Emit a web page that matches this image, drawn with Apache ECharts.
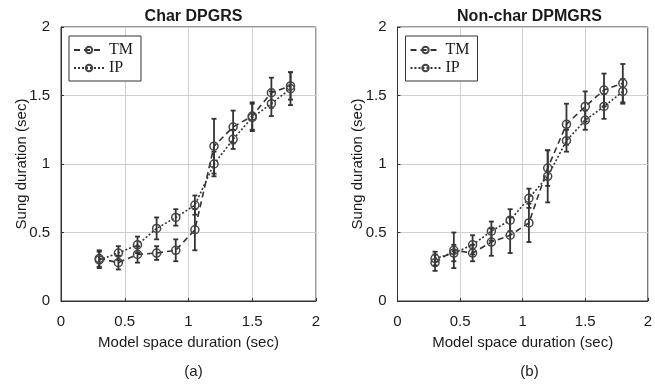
<!DOCTYPE html>
<html>
<head>
<meta charset="utf-8">
<script src="https://cdn.jsdelivr.net/npm/echarts@6/dist/echarts.min.js"></script>
<style>
html,body{margin:0;padding:0;background:#fff;}
#chart{width:655px;height:387px;}
</style>
</head>
<body>
<div id="chart"></div>
<script>
// Model space duration (x) values shared by all series
const xVals = [0.3, 0.45, 0.6, 0.75, 0.9, 1.05, 1.2, 1.35, 1.5, 1.65, 1.8];

// (a) Char DPGRS
const tmA    = [0.31, 0.28, 0.34, 0.35, 0.37, 0.52, 1.13, 1.27, 1.35, 1.52, 1.57];
const tmAErr = [0.06, 0.05, 0.06, 0.05, 0.08, 0.15, 0.20, 0.12, 0.10, 0.11, 0.10];
const ipA    = [0.30, 0.35, 0.41, 0.53, 0.61, 0.70, 1.00, 1.18, 1.34, 1.44, 1.55];
const ipAErr = [0.06, 0.05, 0.06, 0.08, 0.06, 0.07, 0.09, 0.07, 0.10, 0.09, 0.12];

// (b) Non-char DPMGRS
const tmB    = [0.28, 0.37, 0.35, 0.43, 0.48, 0.57, 0.97, 1.29, 1.42, 1.54, 1.59];
const tmBErr = [0.06, 0.13, 0.06, 0.10, 0.13, 0.14, 0.13, 0.15, 0.11, 0.12, 0.14];
const ipB    = [0.31, 0.35, 0.41, 0.51, 0.59, 0.75, 0.91, 1.17, 1.32, 1.42, 1.53];
const ipBErr = [0.05, 0.06, 0.07, 0.07, 0.08, 0.07, 0.19, 0.08, 0.07, 0.09, 0.09];

const titles = ['Char DPGRS', 'Non-char DPMGRS'];
const subLabels = ['(a)', '(b)'];
const xName = 'Model space duration (sec)';
const yName = 'Sung duration (sec)';
const seriesNames = ['TM', 'IP'];

const INK = '#333';
const TXT = '#1a1a1a';
const SANS = 'Liberation Sans, Arial, sans-serif';
const SERIF = 'Liberation Serif, Times New Roman, serif';

const grids = [
  {left: 61, width: 255, top: 27, bottom: 86},
  {left: 397.5, width: 254, top: 27, bottom: 86}
];

function pairs(ys) { return xVals.map((x, i) => [x, ys[i]]); }
function errData(ys, es) { return xVals.map((x, i) => [x, ys[i] - es[i], ys[i] + es[i]]); }

function errSeries(idx, ys, es) {
  return {
    type: 'custom', xAxisIndex: idx, yAxisIndex: idx, z: 2, silent: true,
    data: errData(ys, es),
    renderItem: function (params, api) {
      const lo = api.coord([api.value(0), api.value(1)]);
      const hi = api.coord([api.value(0), api.value(2)]);
      const w = 2.5;
      const st = {stroke: INK, lineWidth: 1.8};
      return {type: 'group', children: [
        {type: 'line', shape: {x1: lo[0], y1: lo[1], x2: hi[0], y2: hi[1]}, style: st},
        {type: 'line', shape: {x1: lo[0] - w, y1: lo[1], x2: lo[0] + w, y2: lo[1]}, style: st},
        {type: 'line', shape: {x1: hi[0] - w, y1: hi[1], x2: hi[0] + w, y2: hi[1]}, style: st}
      ]};
    }
  };
}

function lineSeries(idx, name, ys, dash) {
  return {
    type: 'line', name: name, xAxisIndex: idx, yAxisIndex: idx, z: 3,
    data: pairs(ys),
    symbol: 'circle', symbolSize: 8,
    color: INK,
    itemStyle: {color: 'rgba(255,255,255,0)', borderColor: '#444', borderWidth: 1.5},
    lineStyle: {color: INK, width: 1.6, type: dash},
    animation: false
  };
}

const xAxes = grids.map((g, i) => ({
  type: 'value', gridIndex: i, min: 0, max: 2, interval: 0.5,
  name: xName, nameLocation: 'middle', nameGap: 34, nameMoveOverlap: false,
  nameTextStyle: {fontFamily: SANS, fontSize: 15, color: TXT},
  axisLine: {show: true, lineStyle: {color: INK, width: 1}},
  axisTick: {show: true, inside: true, length: 3, lineStyle: {color: INK}},
  axisLabel: {fontFamily: SANS, fontSize: 15, color: TXT, margin: 13,
              formatter: v => String(v)},
  splitLine: {show: true, lineStyle: {color: '#d0d0d0', width: 1}}
}));
const yAxes = grids.map((g, i) => ({
  type: 'value', gridIndex: i, min: 0, max: 2, interval: 0.5,
  name: yName, nameLocation: 'middle', nameGap: 32, nameMoveOverlap: false,
  nameTextStyle: {fontFamily: SANS, fontSize: 15, color: TXT},
  axisLine: {show: true, lineStyle: {color: INK, width: 1}},
  axisTick: {show: true, inside: true, length: 3, lineStyle: {color: INK}},
  axisLabel: {fontFamily: SANS, fontSize: 15, color: TXT, margin: 11,
              formatter: v => String(v)},
  splitLine: {show: true, lineStyle: {color: '#d0d0d0', width: 1}}
}));

const centers = grids.map(g => g.left + g.width / 2);

const option = {
  backgroundColor: '#fff',
  animation: false,
  grid: grids.map(g => Object.assign({show: true, borderColor: INK, borderWidth: 1, backgroundColor: 'transparent'}, g)),
  xAxis: xAxes,
  yAxis: yAxes,
  title: [
    {text: titles[0], left: centers[0], top: 4, textAlign: 'center',
     textStyle: {fontFamily: SANS, fontSize: 16, fontWeight: 'bold', color: TXT}},
    {text: titles[1], left: centers[1], top: 4, textAlign: 'center',
     textStyle: {fontFamily: SANS, fontSize: 16, fontWeight: 'bold', color: TXT}},
    {text: subLabels[0], left: centers[0], top: 359, textAlign: 'center',
     textStyle: {fontFamily: SANS, fontSize: 15, fontWeight: 'normal', color: TXT}},
    {text: subLabels[1], left: centers[1], top: 359, textAlign: 'center',
     textStyle: {fontFamily: SANS, fontSize: 15, fontWeight: 'normal', color: TXT}}
  ],
  legend: [0, 1].map(i => ({
    data: seriesNames, orient: 'vertical', left: grids[i].left + 8, top: 36,
    itemWidth: 30, itemHeight: 8, itemGap: 2,
    backgroundColor: '#fff', borderColor: INK, borderWidth: 1,
    padding: [6, 8, 5, 4],
    selectedMode: false,
    textStyle: {fontFamily: SERIF, fontSize: 16, color: TXT}
  })),
  series: [
    errSeries(0, tmA, tmAErr), errSeries(0, ipA, ipAErr),
    lineSeries(0, 'TM', tmA, [6, 4]), lineSeries(0, 'IP', ipA, [2, 2]),
    errSeries(1, tmB, tmBErr), errSeries(1, ipB, ipBErr),
    lineSeries(1, 'TM', tmB, [6, 4]), lineSeries(1, 'IP', ipB, [2, 2])
  ]
};

const chart = echarts.init(document.getElementById('chart'), null, {renderer: 'canvas'});
chart.setOption(option);
</script>
</body>
</html>
